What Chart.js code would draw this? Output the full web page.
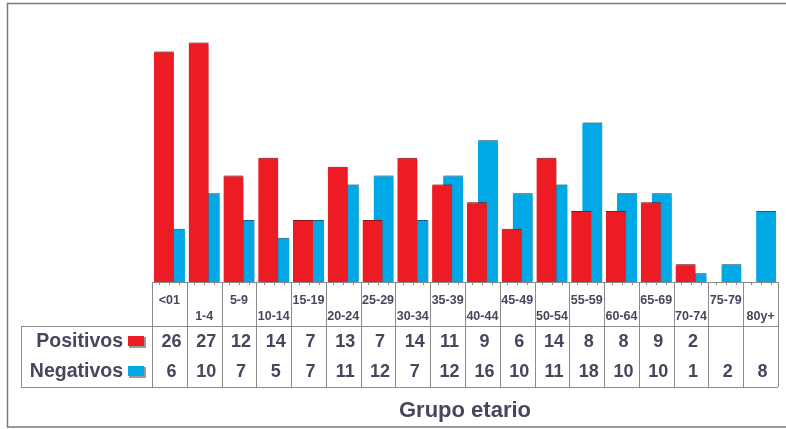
<!DOCTYPE html>
<html>
<head>
<meta charset="utf-8">
<script src="https://cdn.jsdelivr.net/npm/chart.js@4"></script>
<style>
  html, body { margin: 0; padding: 0; background: #fff; }
  #wrap { width: 786px; height: 429px; position: relative; }
</style>
</head>
<body>
<div id="wrap"><canvas id="myChart" width="786" height="429"></canvas></div>
<script>
const ageGroups = ['<01', '1-4', '5-9', '10-14', '15-19', '20-24', '25-29', '30-34', '35-39',
  '40-44', '45-49', '50-54', '55-59', '60-64', '65-69', '70-74', '75-79', '80y+'];
const positivos = [26, 27, 12, 14, 7, 13, 7, 14, 11, 9, 6, 14, 8, 8, 9, 2, null, null];
const negativos = [6, 10, 7, 5, 7, 11, 12, 7, 12, 16, 10, 11, 18, 10, 10, 1, 2, 8];
const seriesNames = ['Positivos', 'Negativos'];
const axisTitle = 'Grupo etario';

const RED = '#ED1C24';
const BLUE = '#00A9E6';
const INK = '#46465e';
const GRID = '#8c8c8c';
const FONT = "'Liberation Sans', Arial, sans-serif";

// staggered labels: even ones on the first line, odd ones on the second
const tickLabels = ageGroups.map((g, i) => i % 2 === 0 ? [g, ''] : ['', g]);

const shadowPlugin = {
  id: 'barShadow',
  beforeDatasetsDraw(chart) {
    const ctx = chart.ctx;
    ctx.save();
    ctx.shadowColor = 'rgba(0,0,0,0.35)';
    ctx.shadowOffsetX = 1.5;
    ctx.shadowOffsetY = 0;
    ctx.shadowBlur = 1;
  },
  afterDatasetsDraw(chart) {
    chart.ctx.restore();
  }
};

const tablePlugin = {
  id: 'dataTable',
  afterDraw(chart) {
    const ctx = chart.ctx;
    const x = chart.scales.x;
    const half = (x.getPixelForValue(1) - x.getPixelForValue(0)) / 2;
    const left = x.left, right = x.right;
    const base = chart.chartArea.bottom;
    const rowTop = 326, rowBot = 387, tabLeft = 21;

    ctx.save();
    // outer frame
    ctx.strokeStyle = '#7a7a7a';
    ctx.lineWidth = 1.5;
    ctx.beginPath();
    ctx.moveTo(786, 3.5); ctx.lineTo(7.5, 3.5); ctx.lineTo(7.5, 427); ctx.lineTo(786, 427);
    ctx.stroke();

    // table grid
    ctx.strokeStyle = GRID;
    ctx.lineWidth = 1;
    ctx.beginPath();
    ctx.moveTo(left, base + 0.5); ctx.lineTo(right, base + 0.5);
    ctx.moveTo(tabLeft, rowTop + 0.5); ctx.lineTo(right, rowTop + 0.5);
    ctx.moveTo(tabLeft, rowBot + 0.5); ctx.lineTo(right, rowBot + 0.5);
    ctx.moveTo(tabLeft + 0.5, rowTop); ctx.lineTo(tabLeft + 0.5, rowBot);
    for (let i = 0; i <= ageGroups.length; i++) {
      const px = Math.round(x.getPixelForValue(0) - half + i * 2 * half) + 0.5;
      ctx.moveTo(px, base); ctx.lineTo(px, rowBot);
    }
    ctx.stroke();

    // small tick marks under bars
    ctx.beginPath();
    ageGroups.forEach((g, i) => {
      const c = x.getPixelForValue(i);
      [-10, 0, 10].forEach(d => {
        const px = Math.round(c + d) + 0.5;
        ctx.moveTo(px, base); ctx.lineTo(px, base + 3);
      });
    });
    ctx.stroke();

    // row headers with swatches
    const rows = [[positivos, RED, 342], [negativos, BLUE, 372]];
    ctx.fillStyle = INK;
    ctx.font = 'bold 19.5px ' + FONT;
    ctx.textBaseline = 'middle';
    ctx.textAlign = 'right';
    rows.forEach(([vals, col, y], r) => {
      ctx.fillStyle = INK;
      ctx.fillText(seriesNames[r], 123, y);
      ctx.fillStyle = '#9a9a9a';
      ctx.fillRect(129, y - 5, 17, 11);
      ctx.fillStyle = col;
      ctx.fillRect(128, y - 6, 16, 10);
    });

    // values
    ctx.font = 'bold 18px ' + FONT;
    ctx.textAlign = 'center';
    ctx.fillStyle = INK;
    rows.forEach(([vals, col, y]) => {
      vals.forEach((v, i) => {
        if (v === null) return;
        ctx.fillText(String(v), x.getPixelForValue(i) + 2, y);
      });
    });

    // axis title
    ctx.font = 'bold 22px ' + FONT;
    ctx.fillText(axisTitle, 465, 411);
    ctx.restore();
  }
};

const data = {
  labels: tickLabels,
  datasets: [
    {
      label: seriesNames[0],
      data: positivos,
      backgroundColor: RED,
      borderColor: '#8e1a1a',
      borderWidth: { top: 1, left: 0, right: 0, bottom: 0 },
      borderSkipped: 'bottom',
      categoryPercentage: 0.634,
      barPercentage: 1.82
    },
    {
      label: seriesNames[1],
      data: negativos,
      backgroundColor: BLUE,
      borderColor: '#1d5f86',
      borderWidth: { top: 1, left: 0, right: 0, bottom: 0 },
      borderSkipped: 'bottom',
      categoryPercentage: 0.634,
      barPercentage: 1.82
    }
  ]
};

const config = {
  type: 'bar',
  data: data,
  options: {
    responsive: false,
    animation: false,
    layout: { padding: { left: 152, right: 8, top: 16, bottom: 0 } },
    plugins: {
      legend: { display: false },
      tooltip: { enabled: false }
    },
    scales: {
      x: {
        grid: { display: false, drawTicks: false, tickLength: 0 },
        border: { display: false },
        ticks: {
          autoSkip: false,
          maxRotation: 0,
          minRotation: 0,
          padding: 10,
          color: INK,
          font: { family: FONT, size: 12.5, weight: 'bold', lineHeight: 1.32 }
        },
        afterFit(scale) { scale.height = 147; }
      },
      y: {
        display: false,
        min: 0,
        max: 30
      }
    }
  },
  plugins: [shadowPlugin, tablePlugin]
};

const myChart = new Chart(document.getElementById('myChart'), config);
</script>
</body>
</html>
